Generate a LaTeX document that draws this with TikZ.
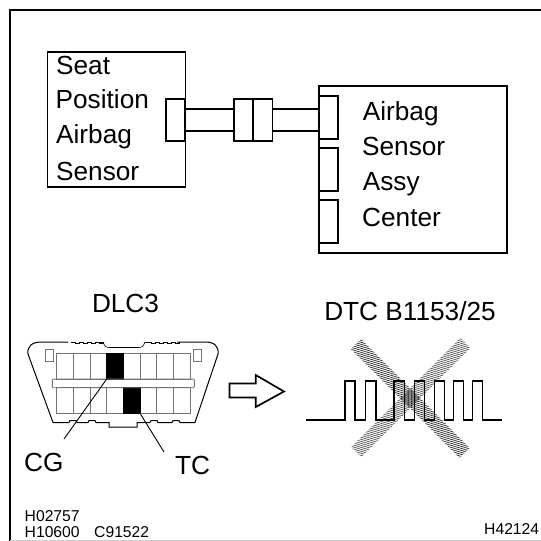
\documentclass[tikz,border=0pt]{standalone}
\usepackage{fontspec}
\setmainfont{Liberation Sans}
\usetikzlibrary{calc,positioning}

\tikzset{
  box/.style   = {draw, line width=1.7pt, outer sep=0pt, minimum width=#1},
  plug/.style  = {draw, fill=white, line width=1.7pt, outer sep=0pt, minimum width=19pt, minimum height=42.5pt},
  wire/.style  = {line width=1.7pt},
  lbl/.style   = {inner sep=0pt, anchor=base west, font=\fontsize{26.2}{30}\selectfont},
  tiny/.style  = {inner sep=0pt, anchor=base west, font=\fontsize{15.7}{18}\selectfont},
  cell/.style  = {draw=black!55, line width=.9pt, outer sep=0pt, minimum width=16.67pt, minimum height=25.7pt},
  pin/.style   = {cell, draw=black, fill=black},
  hatch/.style = {line width=.75pt, black!80}
}

\begin{document}
\begin{tikzpicture}[x=1pt, y=-1pt]
    \useasboundingbox (0,0) rectangle (541,541);

    % frame
    \draw[line width=2pt] (9.5,541) -- (9.5,9.5) -- (541,9.5);
    \draw[black!20, line width=1pt] (10,540.5) -- (541,540.5);

    % upper boxes
    \node[box=138pt, minimum height=135pt]   (seatbox)  at (116.5,119.5) {};
    \node[box=188pt, minimum height=167pt]   (assybox)  at (413,169.5)   {};
    \node[plug]                              (seatplug) at (175.5,120)   {};
    \node[plug, minimum width=19.25pt]       (midleft)  at (243.6,120)   {};
    \node[plug, minimum width=19.25pt, right = 0pt of midleft] (midright) {};
    \node[plug]                              (assyplug) at (328.5,117.5) {};
    \node[plug, below = 9.5pt of assyplug]   (assyplugb) {};
    \node[plug, below = 9.5pt of assyplugb]  (assyplugc) {};

    \draw[wire] ($(seatplug.east) - (0,11)$) -- ($(midleft.west) - (0,11)$);
    \draw[wire] ($(seatplug.east) + (0,11)$) -- ($(midleft.west) + (0,11)$);
    \draw[wire] ($(midright.east) - (0,11)$) -- ($(assyplug.west) - (0,8.5)$);
    \draw[wire] ($(midright.east) + (0,11)$) -- ($(assyplug.west) + (0,13.5)$);

    \node[lbl] (seat)     at (56,74)     {Seat};
    \node[lbl] (position) at (55.5,108.7) {Position};
    \node[lbl] (airbag)   at (56,143.5)  {Airbag};
    \node[lbl] (sensor)   at (56,180)    {Sensor};

    \node[lbl] (airbagr)  at (362.7,120.7) {Airbag};
    \node[lbl] (sensorr)  at (362,155)     {Sensor};
    \node[lbl] (assy)     at (362.7,190.7) {Assy};
    \node[lbl] (center)   at (362,226.7)   {Center};

    % connector
    \node[lbl, anchor=center] (dlc) at (125.5,303) {DLC3};

    \draw[line width=1pt] (68,342) -- (42,342) .. controls (32,342) and (27,346) .. (28,354);
    \draw[line width=1pt] (28,354) -- (53,422.5) -- (69,422.5) -- (70,420.5) -- (76,420.5) -- (77,422.5)
        -- (88,422.5) -- (89,420.5) -- (95,420.5) -- (96,422.5) -- (109,422.5) -- (109,427) -- (137,427)
        -- (137,422.5) -- (150,422.5) -- (151,420.5) -- (157,420.5) -- (158,422.5) -- (172,422.5)
        -- (173,420.5) -- (179,420.5) -- (180,422.5) -- (195,422.5) -- (218,354);
    \draw[line width=1pt] (177,342) -- (205,342) .. controls (214,342) and (219,346) .. (218,354);
    \draw[line width=.6pt] (103,342) .. controls (105,347) and (106,347.5) .. (110,347.5) -- (138,347.5)
        .. controls (142,347.5) and (143,347) .. (145,342);
    \foreach \cx in {71,79,87,95,147,155,163,171} {
        \draw[line width=1pt] (\cx,342) -- ++(4,0) -- ++(0,1.8) -- ++(4,0) -- ++(0,-1.8);
    }
    \draw[line width=1pt] (99,342) -- (103,342);
    \draw[line width=1pt] (145,342) -- (147,342);

    \foreach \col in {0,...,7} {
        \node[cell] (upper\col) at (65+16.67*\col,366.2) {};
        \node[cell] (lower\col) at (65+16.67*\col,400.5) {};
    }
    \node[pin] (cgpin) at (115,366.2) {};
    \node[pin] (tcpin) at (131.7,400.5) {};
    \node[draw=black!55, line width=.9pt, minimum width=142pt, minimum height=8.7pt, inner sep=0pt, rounded corners=1pt] (dlcbar) at (123.3,383.4) {};
    \node[draw=black!55, line width=.7pt, minimum width=8pt, minimum height=12.5pt, inner sep=0pt] (lefttab)  at (49,355.3)  {};
    \node[draw=black!55, line width=.7pt, minimum width=8pt, minimum height=12.5pt, inner sep=0pt] (righttab) at (197.5,355.3) {};

    \coordinate (cgend) at (64,439);
    \coordinate (tcend) at (164,452);
    \draw[line width=.9pt] (cgpin.south west) -- (cgend);
    \draw[line width=.9pt] (tcpin.south east) -- (tcend);

    \node[lbl] (cg) at (24,471.5) {CG};
    \node[lbl] (tc) at (175,474.5) {TC};

    % hollow arrow
    \draw[line width=1.7pt] (229.5,383.5) -- (255.7,383.5) -- (255.7,375) -- (284,391.5)
        -- (255.7,407) -- (255.7,397.5) -- (229.5,397.5) -- cycle;

    % pulses
    \node[lbl, anchor=center] (dtc) at (410,311) {DTC B1153/25};

    \begin{scope}
        \clip (351,349) -- (361,339) -- (469.7,448) -- (459.7,458) -- cycle;
        \foreach \s in {280,282,...,470} {
            \draw[hatch] (340,\s) -- (480,\s+42);
        }
    \end{scope}
    \begin{scope}
        \clip (460.3,338) -- (470.3,348) -- (361.3,457) -- (351.3,447) -- cycle;
        \foreach \s in {320,322,...,510} {
            \draw[hatch, black!65] (340,\s) -- (480,\s-42);
        }
    \end{scope}

    \draw[line width=1.2pt] (305.7,420) -- (345,420) -- (345,381) -- (355,381) -- (355,420) -- (365.7,420)
        -- (365.7,381) -- (376,381) -- (376,420) -- (394,420) -- (394,381) -- (404.3,381) -- (404.3,420)
        -- (414.3,420) -- (414.3,381) -- (424.3,381) -- (424.3,420) -- (434.3,420) -- (434.3,381)
        -- (444.3,381) -- (444.3,420) -- (453.3,420) -- (453.3,381) -- (463.3,381) -- (463.3,420)
        -- (472.7,420) -- (472.7,381) -- (482.3,381) -- (482.3,420) -- (501.7,420);

    % figure numbers
    \node[tiny] (numa) at (24.5,521.7) {H02757};
    \node[tiny] (numb) at (24.5,537)   {H10600};
    \node[tiny] (numc) at (94,537)     {C91522};
    \node[tiny] (numd) at (484,534)    {H42124};
\end{tikzpicture}
\end{document}
